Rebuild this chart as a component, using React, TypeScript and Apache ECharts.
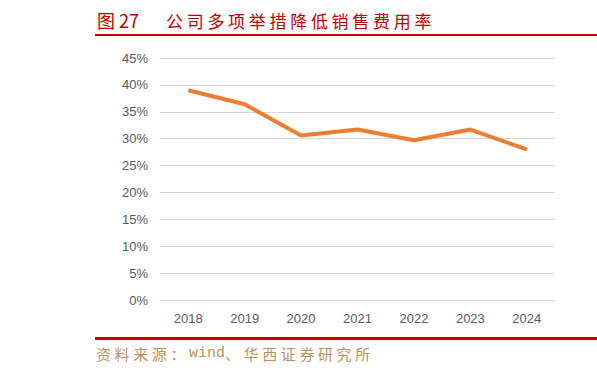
import React, { useEffect, useRef } from "react";
import * as echarts from "echarts";

const categories = ["2018", "2019", "2020", "2021", "2022", "2023", "2024"];
const salesExpenseRate = [39.0, 36.4, 30.6, 31.7, 29.7, 31.7, 28.0];
const yTicks = [0, 5, 10, 15, 20, 25, 30, 35, 40, 45];
const titleLabel = "图 27";
const titleText = "公司多项举措降低销售费用率";
const sourceText = "资料来源：wind、华西证券研究所";

function charRow(text: string, x0: number, y: number, full: number, half: number, style: any) {
  const els: any[] = [];
  let x = x0;
  const chars = Array.from(text);
  let i = 0;
  while (i < chars.length) {
    const ch = chars[i];
    if (ch.charCodeAt(0) < 256) {
      let run = "";
      while (i < chars.length && chars[i].charCodeAt(0) < 256) {
        run += chars[i];
        i++;
      }
      els.push({
        type: "text",
        x,
        y,
        style: { text: run, ...style, fontFamily: "Liberation Mono", verticalAlign: "middle" },
      });
      x += run.length * half;
    } else {
      els.push({
        type: "text",
        x,
        y,
        style: { text: ch, ...style, verticalAlign: "middle" },
      });
      x += full;
      i++;
    }
  }
  return els;
}

export default function App() {
  const ref = useRef<HTMLDivElement>(null);
  useEffect(() => {
    if (!ref.current) return;
    const chart = echarts.init(ref.current, undefined, { renderer: "svg" });
    const titleStyle = { fill: "#c00000", fontSize: 17, fontFamily: "Noto Sans CJK SC" };
    const srcStyle = { fill: "#b8925a", fontSize: 15, fontFamily: "Noto Sans CJK SC" };
    chart.setOption({
      animation: false,
      backgroundColor: "#ffffff",
      grid: { left: 160, right: 42, top: 58, bottom: 71, containLabel: false },
      xAxis: {
        type: "category",
        data: categories,
        boundaryGap: true,
        axisLine: { show: false },
        axisTick: { show: false },
        axisLabel: { color: "#595959", fontSize: 13, fontFamily: "Liberation Sans", margin: 12 },
      },
      yAxis: {
        type: "value",
        min: yTicks[0],
        max: yTicks[yTicks.length - 1],
        interval: 5,
        axisLine: { show: false },
        axisTick: { show: false },
        splitLine: { lineStyle: { color: "#d9d9d9", width: 1 } },
        axisLabel: {
          color: "#595959",
          fontSize: 13,
          fontFamily: "Liberation Sans",
          margin: 12,
          formatter: (v: number) => `${v}%`,
        },
      },
      series: [
        {
          type: "line",
          data: salesExpenseRate,
          symbol: "none",
          lineStyle: { color: "#ed7d31", width: 4 },
        },
      ],
      graphic: [
        {
          type: "text",
          x: 97,
          y: 20,
          style: { text: titleLabel, ...titleStyle, fontSize: 18, fontFamily: "Noto Sans CJK SC", verticalAlign: "middle" },
        },
        ...charRow(titleText, 166, 20, 20.7, 10, titleStyle),
        {
          type: "line",
          shape: { x1: 95, y1: 35, x2: 597, y2: 35 },
          style: { stroke: "#c00000", lineWidth: 2 },
        },
        {
          type: "line",
          shape: { x1: 95, y1: 338.5, x2: 597, y2: 338.5 },
          style: { stroke: "#d00000", lineWidth: 3 },
        },
        ...charRow(sourceText, 96, 353, 18.6, 9, srcStyle),
      ],
    });
    return () => chart.dispose();
  }, []);
  return <div ref={ref} style={{ width: 597, height: 371, position: "absolute", left: 0, top: 0 }} />;
}
